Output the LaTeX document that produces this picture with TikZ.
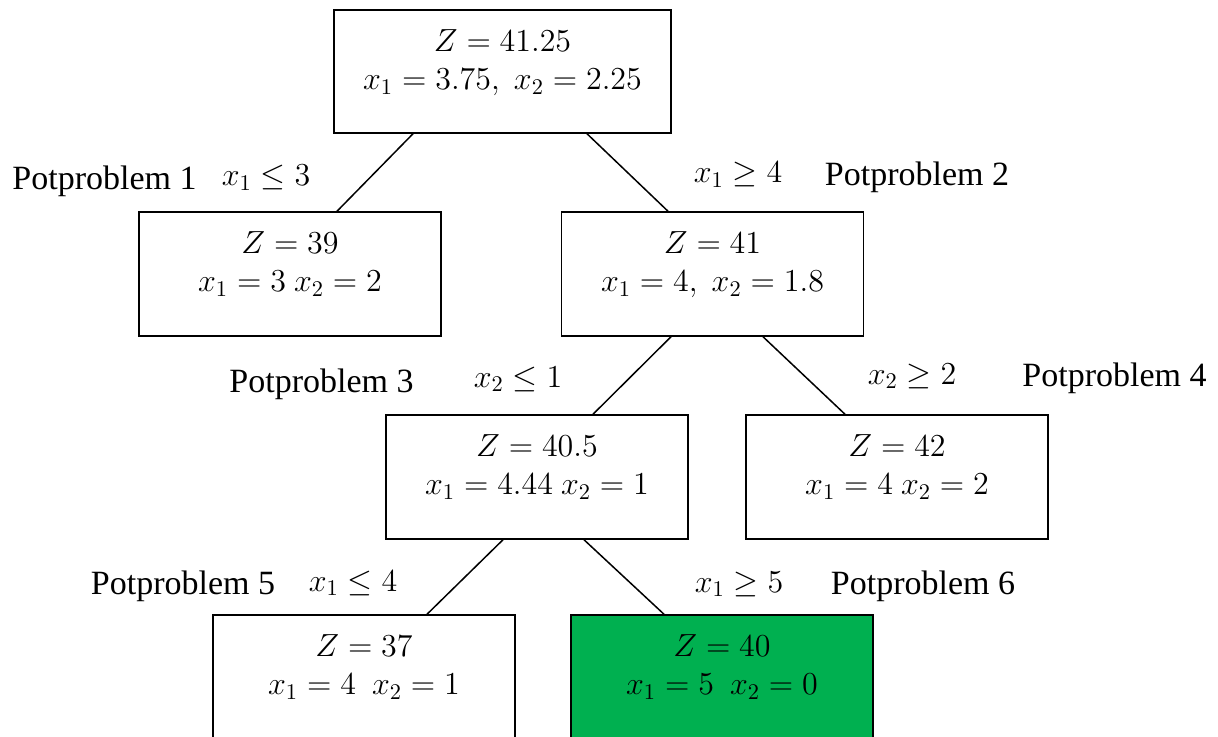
\RequirePackage{fix-cm}
\documentclass[tikz,border=0pt]{standalone}
\usepackage{fontspec}
\setmainfont{Liberation Serif}
\usetikzlibrary{calc}
\definecolor{solgreen}{HTML}{00B050}
\tikzset{
  subbox/.style={draw, line width=0.75pt, minimum width=151pt, minimum height=62pt, inner sep=0pt},
  boxtext/.style={anchor=north, inner sep=0pt, align=center, yshift=-10pt,
    font=\fontsize{16}{19}\selectfont},
  potlabel/.style={anchor=base, inner sep=0pt, font=\fontsize{17}{20}\selectfont},
  condlabel/.style={anchor=base, inner sep=0pt, font=\fontsize{16}{19}\selectfont},
  branch/.style={line width=0.75pt},
}
\begin{document}
\begin{tikzpicture}[x=0.5pt, y=-0.5pt]
    \useasboundingbox (0,0) rectangle (1218,737);

    % Subproblem boxes
    \node[subbox, minimum width=168.5pt, minimum height=61.5pt] (root) at (502.5,71.5) {};
    \node[subbox] (p1) at (290,274) {};
    \node[subbox] (p2) at (712.5,274) {};
    \node[subbox] (p3) at (537,477) {};
    \node[subbox] (p4) at (897,477) {};
    \node[subbox] (p5) at (364,677) {};
    \node[subbox, fill=solgreen] (p6) at (722,677) {};

    % Box contents
    \node[boxtext] (rootval) at (root.north) {$Z = 41.25$\\$x_1 = 3.75,\; x_2 = 2.25$};
    \node[boxtext] (p1val) at (p1.north) {$Z = 39$\\$x_1 = 3\ x_2 = 2$};
    \node[boxtext] (p2val) at (p2.north) {$Z = 41$\\$x_1 = 4,\; x_2 = 1.8$};
    \node[boxtext] (p3val) at (p3.north) {$Z = 40.5$\\$x_1 = 4.44\ x_2 = 1$};
    \node[boxtext] (p4val) at (p4.north) {$Z = 42$\\$x_1 = 4\ x_2 = 2$};
    \node[boxtext] (p5val) at (p5.north) {$Z = 37$\\$x_1 = 4\enspace x_2 = 1$};
    \node[boxtext] (p6val) at (p6.north) {$Z = 40$\\$x_1 = 5\enspace x_2 = 0$};

    % Branches
    \draw[branch] ($(root.south)+(-89.5,0)$) -- ($(p1.north)+(47,0)$);
    \draw[branch] ($(root.south)+(84.5,0)$) -- ($(p2.north)+(-44.5,0)$);
    \draw[branch] ($(p2.south)+(-41.5,0)$) -- ($(p3.north)+(56,0)$);
    \draw[branch] ($(p2.south)+(50.5,0)$) -- ($(p4.north)+(-52,0)$);
    \draw[branch] ($(p3.south)+(-34,0)$) -- ($(p5.north)+(63,0)$);
    \draw[branch] ($(p3.south)+(47,0)$) -- ($(p6.north)+(-58,0)$);

    % Subproblem names
    \foreach \i/\x/\y in {1/104.5/190, 2/917/186, 3/321.5/392, 4/1114.5/386, 5/183/594, 6/923/594} {
        \node[potlabel] (pot\i) at (\x,\y) {Potproblem \i};
    }

    % Branching conditions
    \node[condlabel] (c1) at (266,186) {$x_1 \leq 3$};
    \node[condlabel] (c2) at (738,183) {$x_1 \geq 4$};
    \node[condlabel] (c3) at (518,387) {$x_2 \leq 1$};
    \node[condlabel] (c4) at (912,384) {$x_2 \geq 2$};
    \node[condlabel] (c5) at (353,591) {$x_1 \leq 4$};
    \node[condlabel] (c6) at (739,592) {$x_1 \geq 5$};
\end{tikzpicture}
\end{document}
